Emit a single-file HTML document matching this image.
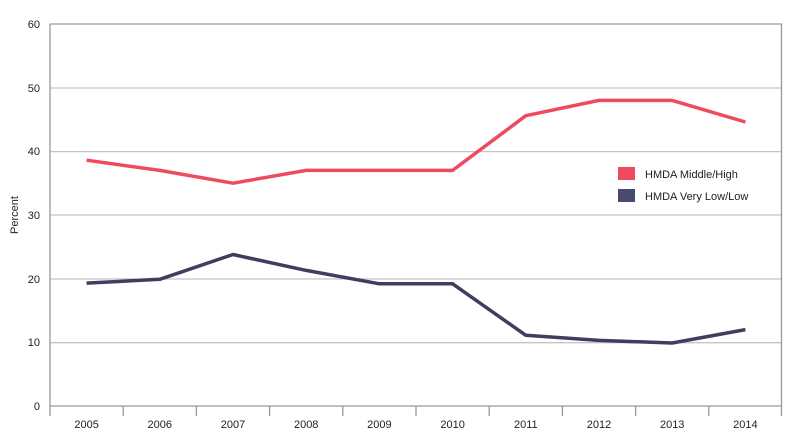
<!DOCTYPE html><html><head><style>body{margin:0;background:#fff}svg{display:block}text{font-family:"Liberation Sans",sans-serif;fill:#222}</style></head><body>
<svg width="800" height="439" viewBox="0 0 800 439">
<g stroke="#c4c4c4" stroke-width="1.3">
<line x1="50" y1="88" x2="782" y2="88"/><line x1="50" y1="151.6" x2="782" y2="151.6"/><line x1="50" y1="215" x2="782" y2="215"/><line x1="50" y1="279" x2="782" y2="279"/><line x1="50" y1="342.7" x2="782" y2="342.7"/>
</g>
<g stroke="#999" stroke-width="1.3">
<line x1="50" y1="24" x2="782" y2="24"/><line x1="50" y1="406" x2="782" y2="406"/>
<line x1="50" y1="24" x2="50" y2="416"/><line x1="781.5" y1="24" x2="781.5" y2="416"/>
<line x1="123.2" y1="406" x2="123.2" y2="416"/><line x1="196.4" y1="406" x2="196.4" y2="416"/><line x1="269.6" y1="406" x2="269.6" y2="416"/><line x1="342.8" y1="406" x2="342.8" y2="416"/><line x1="416" y1="406" x2="416" y2="416"/><line x1="489.2" y1="406" x2="489.2" y2="416"/><line x1="562.4" y1="406" x2="562.4" y2="416"/><line x1="635.6" y1="406" x2="635.6" y2="416"/><line x1="708.8" y1="406" x2="708.8" y2="416"/>
</g>
<g font-size="11" text-anchor="end">
<text x="40" y="28">60</text><text x="40" y="92">50</text><text x="40" y="155">40</text><text x="40" y="219">30</text><text x="40" y="283">20</text><text x="40" y="346">10</text><text x="40" y="410">0</text>
</g>
<text transform="translate(18,215) rotate(-90)" font-size="11" text-anchor="middle">Percent</text>
<g font-size="11" text-anchor="middle">
<text x="86.6" y="428">2005</text><text x="159.8" y="428">2006</text><text x="233" y="428">2007</text><text x="306.2" y="428">2008</text><text x="379.4" y="428">2009</text><text x="452.6" y="428">2010</text><text x="525.8" y="428">2011</text><text x="599" y="428">2012</text><text x="672.2" y="428">2013</text><text x="745.4" y="428">2014</text>
</g>
<polyline fill="none" stroke="#ee4b5e" stroke-width="3.5" stroke-linejoin="round" points="86.6,160.2 159.8,170.4 233,183.2 306.2,170.4 379.4,170.4 452.6,170.4 525.8,115.7 599,100.4 672.2,100.4 745.4,122"/>
<polyline fill="none" stroke="#3c3f5e" stroke-width="3.5" stroke-linejoin="round" points="86.6,283.1 159.8,279.3 233,254.5 306.2,270.4 379.4,283.8 452.6,283.8 525.8,335.3 599,340.4 672.2,343 745.4,329.6"/>
<rect x="618" y="167" width="17" height="13" fill="#ee4b5e"/>
<rect x="618" y="189" width="17" height="13" fill="#484b6e"/>
<text x="645" y="178" font-size="11">HMDA Middle/High</text>
<text x="645" y="200" font-size="11">HMDA Very Low/Low</text>
</svg></body></html>
